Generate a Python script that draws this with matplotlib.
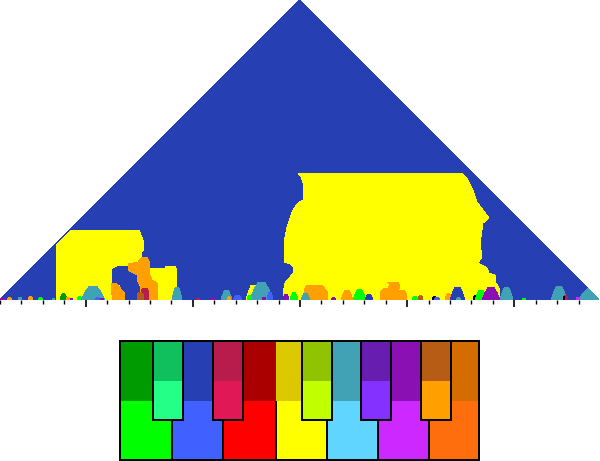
import numpy as np
import matplotlib
matplotlib.use("Agg")
import matplotlib.pyplot as plt
from matplotlib.patches import Polygon, Rectangle

# key colours (upper case = major, lower case = minor)
key_names = ["C", "C#", "D", "Eb", "E", "F", "F#", "G", "Ab", "A", "Bb", "B"]
major_colors = ["#00ff00", "#24ff88", "#4060ff", "#e01856", "#ff0000", "#ffff00",
                "#c0ff00", "#5fd5ff", "#8430ff", "#cc28ff", "#ffa000", "#ff6e0c"]
minor_colors = ["#009b00", "#10c05c", "#2640b4", "#b81c4c", "#aa0000", "#dcc800",
                "#90c400", "#42a2b5", "#661db0", "#8a10b4", "#b75c14", "#d46c00"]

col = {}
for k, ma, mi in zip(key_names, major_colors, minor_colors):
    col[k] = ma
    col[k.lower()] = mi
col["k"] = "#000000"

n_measures = 28
background_key = "d"

# big F major region (time position, window level)
big_f_x = [298, 462, 468, 473, 477, 483, 489, 483, 482, 480, 482, 478, 484, 487, 489, 495,
           496, 500, 500, 283, 283, 285, 290, 293, 294, 290, 284, 284, 285, 287, 290, 293,
           298, 303, 304, 303, 301]
big_f_y = [173, 173, 180, 190, 202, 210, 218, 223, 230, 243, 257, 263, 266, 268, 273, 275,
           283, 290, 300, 300, 293, 283, 277, 273, 268, 264, 262, 247, 237, 227, 218, 210,
           203, 200, 193, 183, 177]

# small F major region
small_f_x = [71, 139, 141, 143, 144, 144, 142, 142, 144, 150, 150, 165, 166, 175, 177, 177,
             176, 56, 56]
small_f_y = [230, 230, 235, 240, 243, 250, 252, 257, 258, 265, 268, 268, 266, 266, 270, 288,
             300, 300, 245]

# d minor hole inside the small region
hole_d_x = [121, 128, 131, 137, 138, 140, 139, 126, 124, 120, 113, 112, 113, 117]
hole_d_y = [266, 266, 272, 276, 283, 290, 300, 300, 292, 285, 283, 275, 269, 267]

# Bb major patches
orange_a_x = [142, 147, 150, 150, 152, 157, 158, 158, 140, 140, 137, 137, 131, 128, 128, 138]
orange_a_y = [257, 257, 263, 275, 280, 283, 290, 300, 300, 285, 280, 275, 272, 270, 264, 262]
orange_b_x = [112, 117, 121, 125, 125, 113, 111]
orange_b_y = [283, 284, 289, 293, 300, 300, 290]
orange_c_x = [307, 322, 325, 328, 328, 305, 304]
orange_c_y = [285, 285, 289, 292, 300, 300, 290]
orange_g_x = [387, 398, 400, 398, 404, 407, 407, 380, 380, 384, 388, 390]
orange_g_y = [282, 282, 287, 290, 290, 295, 300, 300, 292, 288, 288, 285]

# eb minor and bb minor bits under the orange patch
crimson_x = [142, 147, 149, 148, 141]
crimson_y = [289, 288, 292, 300, 300]
brown_x = [138, 141, 144, 144, 137]
brown_y = [293, 292, 296, 300, 300]

# g minor corner at the right end
corner_g_x = [579, 582, 586, 588, 599]
corner_g_y = [300, 294, 290, 288, 300]

# short windows near the base: key, start, end, top level
bump_keys = ["a", "Bb", "g", "Bb", "C", "g", "c", "Bb", "a", "C", "g", "D", "a",
             "g", "a", "g", "Bb", "D", "F", "g", "C", "a", "D", "a", "C",
             "g", "Bb", "C", "d", "C", "bb", "k", "D", "Bb", "d", "g", "k",
             "C", "a", "g", "C", "g", "eb", "k", "A", "a", "eb"]
bump_left = [0, 7, 18, 28, 38, 52, 60, 66, 70, 77, 81, 95, 100,
             172, 210, 221, 227, 233, 246, 250, 247, 262, 267, 283, 290,
             301, 341, 353, 365, 412, 418, 432, 434, 445, 450, 456, 473,
             475, 482, 500, 522, 551, 563, 563, 576, 331, 196]
bump_right = [5, 12, 22, 33, 43, 55, 67, 70, 73, 82, 105, 100, 104,
              182, 215, 232, 231, 242, 261, 273, 252, 266, 273, 289, 298,
              310, 353, 366, 373, 418, 423, 437, 440, 452, 465, 461, 477,
              487, 500, 513, 526, 567, 568, 565, 580, 336, 200]
bump_top = [297, 297, 297, 296, 297, 298, 293, 297, 298, 296, 286, 297, 298,
            287, 297, 290, 296, 295, 285, 282, 295, 297, 292, 294, 292,
            293, 290, 289, 294, 296, 295, 296, 297, 293, 287, 297, 295,
            290, 287, 287, 298, 286, 295, 296, 297, 297, 298]

# piano legend
white_idx = [0, 2, 4, 5, 7, 9, 11]
black_idx = [1, 3, 6, 8, 10]
white_edges = [120, 172.3, 223.3, 275.7, 326.7, 378.3, 429.3, 479.3]
black_left = [153.3, 213.3, 302.3, 361.3, 421.3]

fig = plt.figure(figsize=(6.0, 4.61), dpi=100)
ax = fig.add_axes([0, 0, 1, 1])
ax.set_xlim(0, 600)
ax.set_ylim(461, 0)
ax.axis("off")

# keyscape triangle
ax.add_patch(Polygon([(0, 300), (299.5, 0), (599, 300)], closed=True,
                     facecolor=col[background_key], edgecolor="none", antialiased=False))


def region(xs, ys, key):
    ax.add_patch(Polygon(np.column_stack([xs, ys]), closed=True, facecolor=col[key],
                         edgecolor="none", antialiased=False))


region(big_f_x, big_f_y, "F")
region(small_f_x, small_f_y, "F")
region(hole_d_x, hole_d_y, "d")
region(orange_a_x, orange_a_y, "Bb")
region(orange_b_x, orange_b_y, "Bb")
region(orange_c_x, orange_c_y, "Bb")
region(orange_g_x, orange_g_y, "Bb")
region(crimson_x, crimson_y, "eb")
region(brown_x, brown_y, "bb")
region(corner_g_x, corner_g_y, "g")

for k, x0, x1, yt in zip(bump_keys, bump_left, bump_right, bump_top):
    w = x1 - x0
    yh = (300 + yt) / 2
    region([x0, x0 + 0.15 * w, x0 + 0.35 * w, x1 - 0.35 * w, x1 - 0.15 * w, x1],
           [300, yh, yt, yt, yh, 300], k)

# measure ticks
tick_x = np.arange(n_measures) * 600 / n_measures
major = (np.arange(n_measures) + 1) % 5 == 0
ax.vlines(tick_x[~major], 300, 303.5, color="black", lw=1.0)
ax.vlines(tick_x[major], 300, 306.5, color="black", lw=1.2)

# piano legend
top, split, bottom = 341, 400.7, 460
black_split, black_bottom = 381, 420
lw = 1.4
for i, ki in enumerate(white_idx):
    x0, x1 = white_edges[i], white_edges[i + 1]
    ax.add_patch(Rectangle((x0, top), x1 - x0, split - top, facecolor=minor_colors[ki],
                           edgecolor="none", zorder=1))
    ax.add_patch(Rectangle((x0, split), x1 - x0, bottom - split, facecolor=major_colors[ki],
                           edgecolor="none", zorder=1))
ax.vlines(white_edges[1:-1], split, bottom, color="black", lw=lw, zorder=2)
for x0, ki in zip(black_left, black_idx):
    ax.add_patch(Rectangle((x0, top), 30, black_split - top, facecolor=minor_colors[ki],
                           edgecolor="none", zorder=3))
    ax.add_patch(Rectangle((x0, black_split), 30, black_bottom - black_split,
                           facecolor=major_colors[ki], edgecolor="none", zorder=3))
    ax.add_patch(Rectangle((x0, top), 30, black_bottom - top, facecolor="none",
                           edgecolor="black", lw=lw, zorder=4))
ax.add_patch(Rectangle((white_edges[0], top), white_edges[-1] - white_edges[0], bottom - top,
                       facecolor="none", edgecolor="black", lw=lw, zorder=4))

fig.savefig("out.png", dpi=100)
